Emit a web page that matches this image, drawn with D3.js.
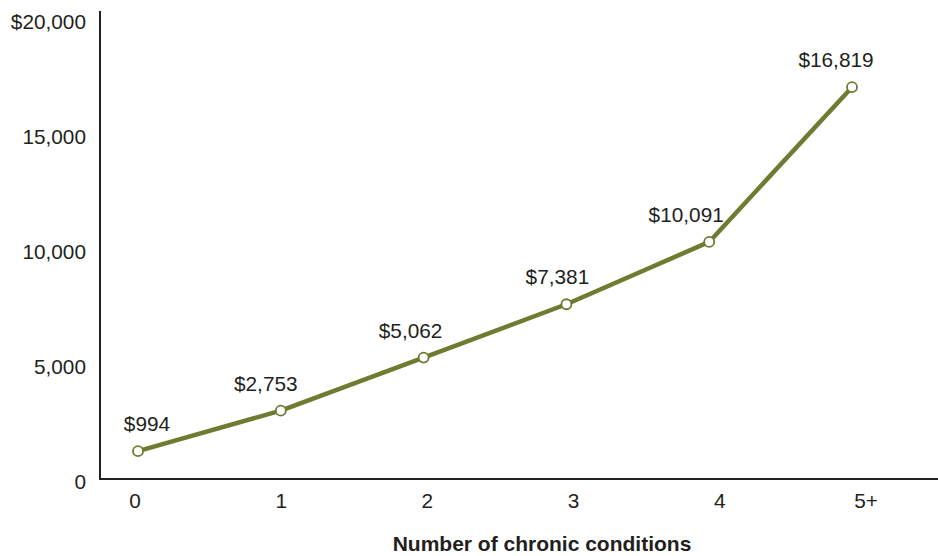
<!DOCTYPE html>
<html>
<head>
<meta charset="utf-8">
<script src="https://cdn.jsdelivr.net/npm/d3@7"></script>
<style>
  html, body { margin: 0; padding: 0; background: #fff; }
  svg text { font-family: "Liberation Sans", Arial, Helvetica, sans-serif; fill: #231f20; }
</style>
</head>
<body>
<svg id="chart" width="938" height="556"></svg>
<script>
// ---- data ----
const categories = ["0", "1", "2", "3", "4", "5+"];
const spending = [994, 2753, 5062, 7381, 10091, 16819];
const valueLabels = ["$994", "$2,753", "$5,062", "$7,381", "$10,091", "$16,819"];
const yTicks = [0, 5000, 10000, 15000, 20000];
const yTickLabels = ["0", "5,000", "10,000", "15,000", "$20,000"];
const xTitle = "Number of chronic conditions";

// ---- layout ----
const labelDx = [9, -15, -13, -9, -23, -16];
const svg = d3.select("#chart");
const olive = "#6f7b31";
const ink = "#231f20";
const fs = 20.8;

const y = d3.scaleLinear().domain([0, 20000]).range([474, 14]);
const xPts = d3.scalePoint().domain(categories).range([138, 852]);
const xLbl = d3.scalePoint().domain(categories).range([135, 866]);

// axes lines
svg.append("line").attr("x1", 100).attr("x2", 100).attr("y1", 11).attr("y2", 480)
  .attr("stroke", ink).attr("stroke-width", 2);
svg.append("line").attr("x1", 99).attr("x2", 938).attr("y1", 479).attr("y2", 479)
  .attr("stroke", ink).attr("stroke-width", 2);

// y tick labels
svg.selectAll(".ytick").data(yTicks).enter().append("text")
  .attr("class", "ytick")
  .attr("x", 86).attr("y", d => y(d) + 15)
  .attr("text-anchor", "end").attr("font-size", fs)
  .text((d, i) => yTickLabels[i]);

// x tick labels
svg.selectAll(".xtick").data(categories).enter().append("text")
  .attr("class", "xtick")
  .attr("x", d => xLbl(d)).attr("y", 508)
  .attr("text-anchor", "middle").attr("font-size", fs)
  .text(d => d);

// x title
svg.append("text").attr("x", 542).attr("y", 551)
  .attr("text-anchor", "middle").attr("font-size", 21).attr("font-weight", "bold")
  .text(xTitle);

const pts = categories.map((c, i) => ({ c, v: spending[i], label: valueLabels[i], dx: labelDx[i] }));

// line
svg.append("path").datum(pts)
  .attr("d", d3.line().x(d => xPts(d.c)).y(d => y(d.v)))
  .attr("fill", "none").attr("stroke", olive).attr("stroke-width", 4.5)
  .attr("stroke-linejoin", "round");

// points
svg.selectAll(".pt").data(pts).enter().append("circle")
  .attr("class", "pt")
  .attr("cx", d => xPts(d.c)).attr("cy", d => y(d.v)).attr("r", 5)
  .attr("fill", "#fff").attr("stroke", olive).attr("stroke-width", 1.8);

// value labels
svg.selectAll(".vl").data(pts).enter().append("text")
  .attr("class", "vl")
  .attr("x", d => xPts(d.c) + d.dx).attr("y", d => y(d.v) - 20)
  .attr("text-anchor", "middle").attr("font-size", fs)
  .text(d => d.label);
</script>
</body>
</html>
